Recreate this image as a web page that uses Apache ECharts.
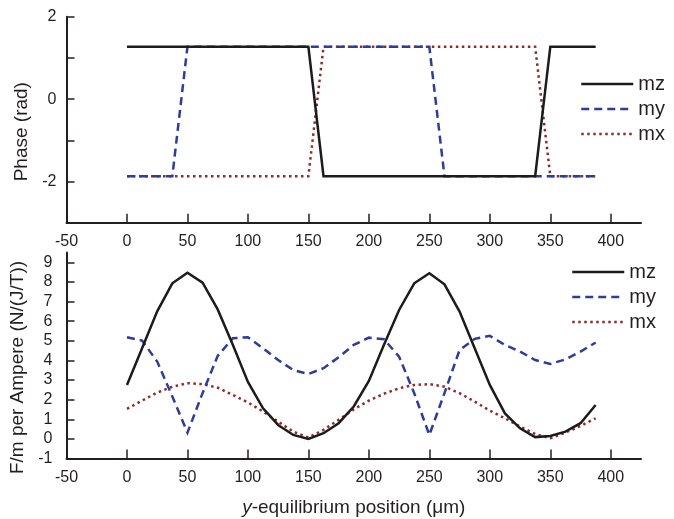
<!DOCTYPE html>
<html>
<head>
<meta charset="utf-8">
<script src="https://cdn.jsdelivr.net/npm/echarts@6/dist/echarts.min.js"></script>
<style>
  html, body { margin: 0; padding: 0; background: #ffffff; }
  #chart { width: 674px; height: 519px; }
</style>
</head>
<body>
<div id="chart"></div>
<script>
// ---- data ----
var positions = [0, 12.5, 25, 37.5, 50, 62.5, 75, 87.5, 100, 112.5, 125, 137.5, 150, 162.5, 175, 187.5,
                 200, 212.5, 225, 237.5, 250, 262.5, 275, 287.5, 300, 312.5, 325, 337.5, 350, 362.5, 375, 387.5];

var mzPhase = [1.27, 1.27, 1.27, 1.27, 1.27, 1.27, 1.27, 1.27, 1.27, 1.27, 1.27, 1.27, 1.27, -1.87, -1.87, -1.87,
               -1.87, -1.87, -1.87, -1.87, -1.87, -1.87, -1.87, -1.87, -1.87, -1.87, -1.87, -1.87, 1.27, 1.27, 1.27, 1.27];
var myPhase = [-1.87, -1.87, -1.87, -1.87, 1.27, 1.27, 1.27, 1.27, 1.27, 1.27, 1.27, 1.27, 1.27, 1.27, 1.27, 1.27,
               1.27, 1.27, 1.27, 1.27, 1.27, -1.87, -1.87, -1.87, -1.87, -1.87, -1.87, -1.87, -1.87, -1.87, -1.87, -1.87];
var mxPhase = [-1.87, -1.87, -1.87, -1.87, -1.87, -1.87, -1.87, -1.87, -1.87, -1.87, -1.87, -1.87, -1.87, 1.27, 1.27, 1.27,
               1.27, 1.27, 1.27, 1.27, 1.27, 1.27, 1.27, 1.27, 1.27, 1.27, 1.27, 1.27, -1.87, -1.87, -1.87, -1.87];

var mzForce = [2.75, 4.62, 6.5, 7.93, 8.47, 7.96, 6.6, 4.8, 2.9, 1.56, 0.71, 0.2, 0.0, 0.29, 0.8, 1.65,
               2.95, 4.8, 6.57, 7.93, 8.44, 7.88, 6.49, 4.62, 2.75, 1.3, 0.54, 0.09, 0.15, 0.37, 0.8, 1.73];
var myForce = [5.18, 5.01, 3.94, 2.16, 0.32, 2.33, 4.23, 5.13, 5.18, 4.62, 4.02, 3.51, 3.31, 3.6, 4.16, 4.79,
               5.16, 5.08, 4.19, 2.33, 0.2, 2.33, 4.53, 5.1, 5.25, 4.79, 4.45, 4.02, 3.82, 4.05, 4.45, 4.91];
var mxForce = [1.53, 1.95, 2.36, 2.66, 2.84, 2.79, 2.61, 2.24, 1.86, 1.39, 0.88, 0.37, 0.07, 0.46, 0.97, 1.5,
               1.95, 2.3, 2.58, 2.75, 2.79, 2.66, 2.33, 1.9, 1.44, 1.05, 0.63, 0.25, 0.03, 0.32, 0.66, 1.05];

var seriesNames = ['mz', 'my', 'mx'];
var xTickValues = [-50, 0, 50, 100, 150, 200, 250, 300, 350, 400];
var phaseTickValues = [-2, -1, 0, 1, 2];
var phaseLabelValues = [-2, 0, 2];
var forceTickValues = [-1, 0, 1, 2, 3, 4, 5, 6, 7, 8, 9];

// ---- styles ----
var FONT = 'Liberation Sans, Arial, Helvetica, sans-serif';
var INK = '#231f20';
var COLORS = { mz: '#1c1c1c', my: '#2c3d9c', mx: '#8e2a2a' };
var LINES = {
  mz: { width: 2.5, type: 'solid' },
  my: { width: 2.5, type: [8, 5] },
  mx: { width: 2.5, type: [2.5, 3.5] }
};

function pairs(ys) { return positions.map(function (x, i) { return [x, ys[i]]; }); }

function xAxis(gridIndex, withName) {
  var ax = {
    type: 'value', gridIndex: gridIndex, min: -50, max: 425, interval: 50,
    axisLine: { show: true, onZero: false, lineStyle: { color: INK, width: 2 } },
    axisTick: { show: true, inside: true, length: 9, customValues: xTickValues, lineStyle: { color: INK, width: 1.5 } },
    axisLabel: { customValues: xTickValues, fontSize: 16, color: INK, margin: 11, fontFamily: FONT },
    splitLine: { show: false }
  };
  if (withName) {
    ax.name = '{i|y}-equilibrium position (\u03bcm)';
    ax.nameLocation = 'middle';
    ax.nameGap = 40;
    ax.nameTextStyle = { fontSize: 19, color: INK, fontFamily: FONT,
      rich: { i: { fontStyle: 'italic', fontSize: 19, color: INK, fontFamily: FONT } } };
  }
  return ax;
}

function yAxis(gridIndex, opts) {
  return {
    type: 'value', gridIndex: gridIndex, min: opts.min, max: opts.max, interval: 1,
    name: opts.name, nameLocation: 'middle', nameGap: 34,
    nameTextStyle: { fontSize: 19, color: INK, fontFamily: FONT, padding: [0, 24, 0, 0] },
    axisLine: { show: true, onZero: false, lineStyle: { color: INK, width: 2 } },
    axisTick: { show: true, inside: true, length: 8, customValues: opts.ticks, lineStyle: { color: INK, width: 1.5 } },
    axisLabel: { customValues: opts.labels, fontSize: 16, color: INK, margin: opts.margin, fontFamily: FONT },
    splitLine: { show: false }
  };
}

var series = [];
[[mzPhase, myPhase, mxPhase], [mzForce, myForce, mxForce]].forEach(function (group, g) {
  group.forEach(function (ys, k) {
    var nm = seriesNames[k];
    series.push({
      name: nm, type: 'line', xAxisIndex: g, yAxisIndex: g,
      data: pairs(ys), showSymbol: false, symbol: 'none', animation: false,
      z: 3 - k,
      lineStyle: { color: COLORS[nm], width: LINES[nm].width, type: LINES[nm].type, cap: 'butt', join: 'miter' },
      itemStyle: { color: COLORS[nm] }
    });
  });
});

function legend(left, top) {
  return {
    data: seriesNames, orient: 'vertical', left: left, top: top,
    itemWidth: 52, itemHeight: 14, itemGap: 5, selectedMode: false,
    itemStyle: { opacity: 0 },
    lineStyle: { width: 2.5 },
    textStyle: { fontSize: 20, lineHeight: 20, color: INK, fontFamily: FONT }
  };
}

var chart = echarts.init(document.getElementById('chart'), null, { renderer: 'canvas' });
chart.setOption({
  backgroundColor: '#ffffff',
  animation: false,
  grid: [
    { left: 66.5, top: 16.7, width: 574.5, height: 206 },
    { left: 66.5, top: 252.5, width: 574.5, height: 206 }
  ],
  legend: [legend(575, 69), legend(566, 257)],
  xAxis: [xAxis(0, false), xAxis(1, true)],
  yAxis: [
    yAxis(0, { min: -3, max: 2, name: 'Phase (rad)', ticks: phaseTickValues, labels: phaseLabelValues, margin: 10 }),
    yAxis(1, { min: -1, max: 9.5, name: 'F/m per Ampere (N/(J/T))', ticks: forceTickValues, labels: forceTickValues, margin: 14 })
  ],
  series: series
});
</script>
</body>
</html>
